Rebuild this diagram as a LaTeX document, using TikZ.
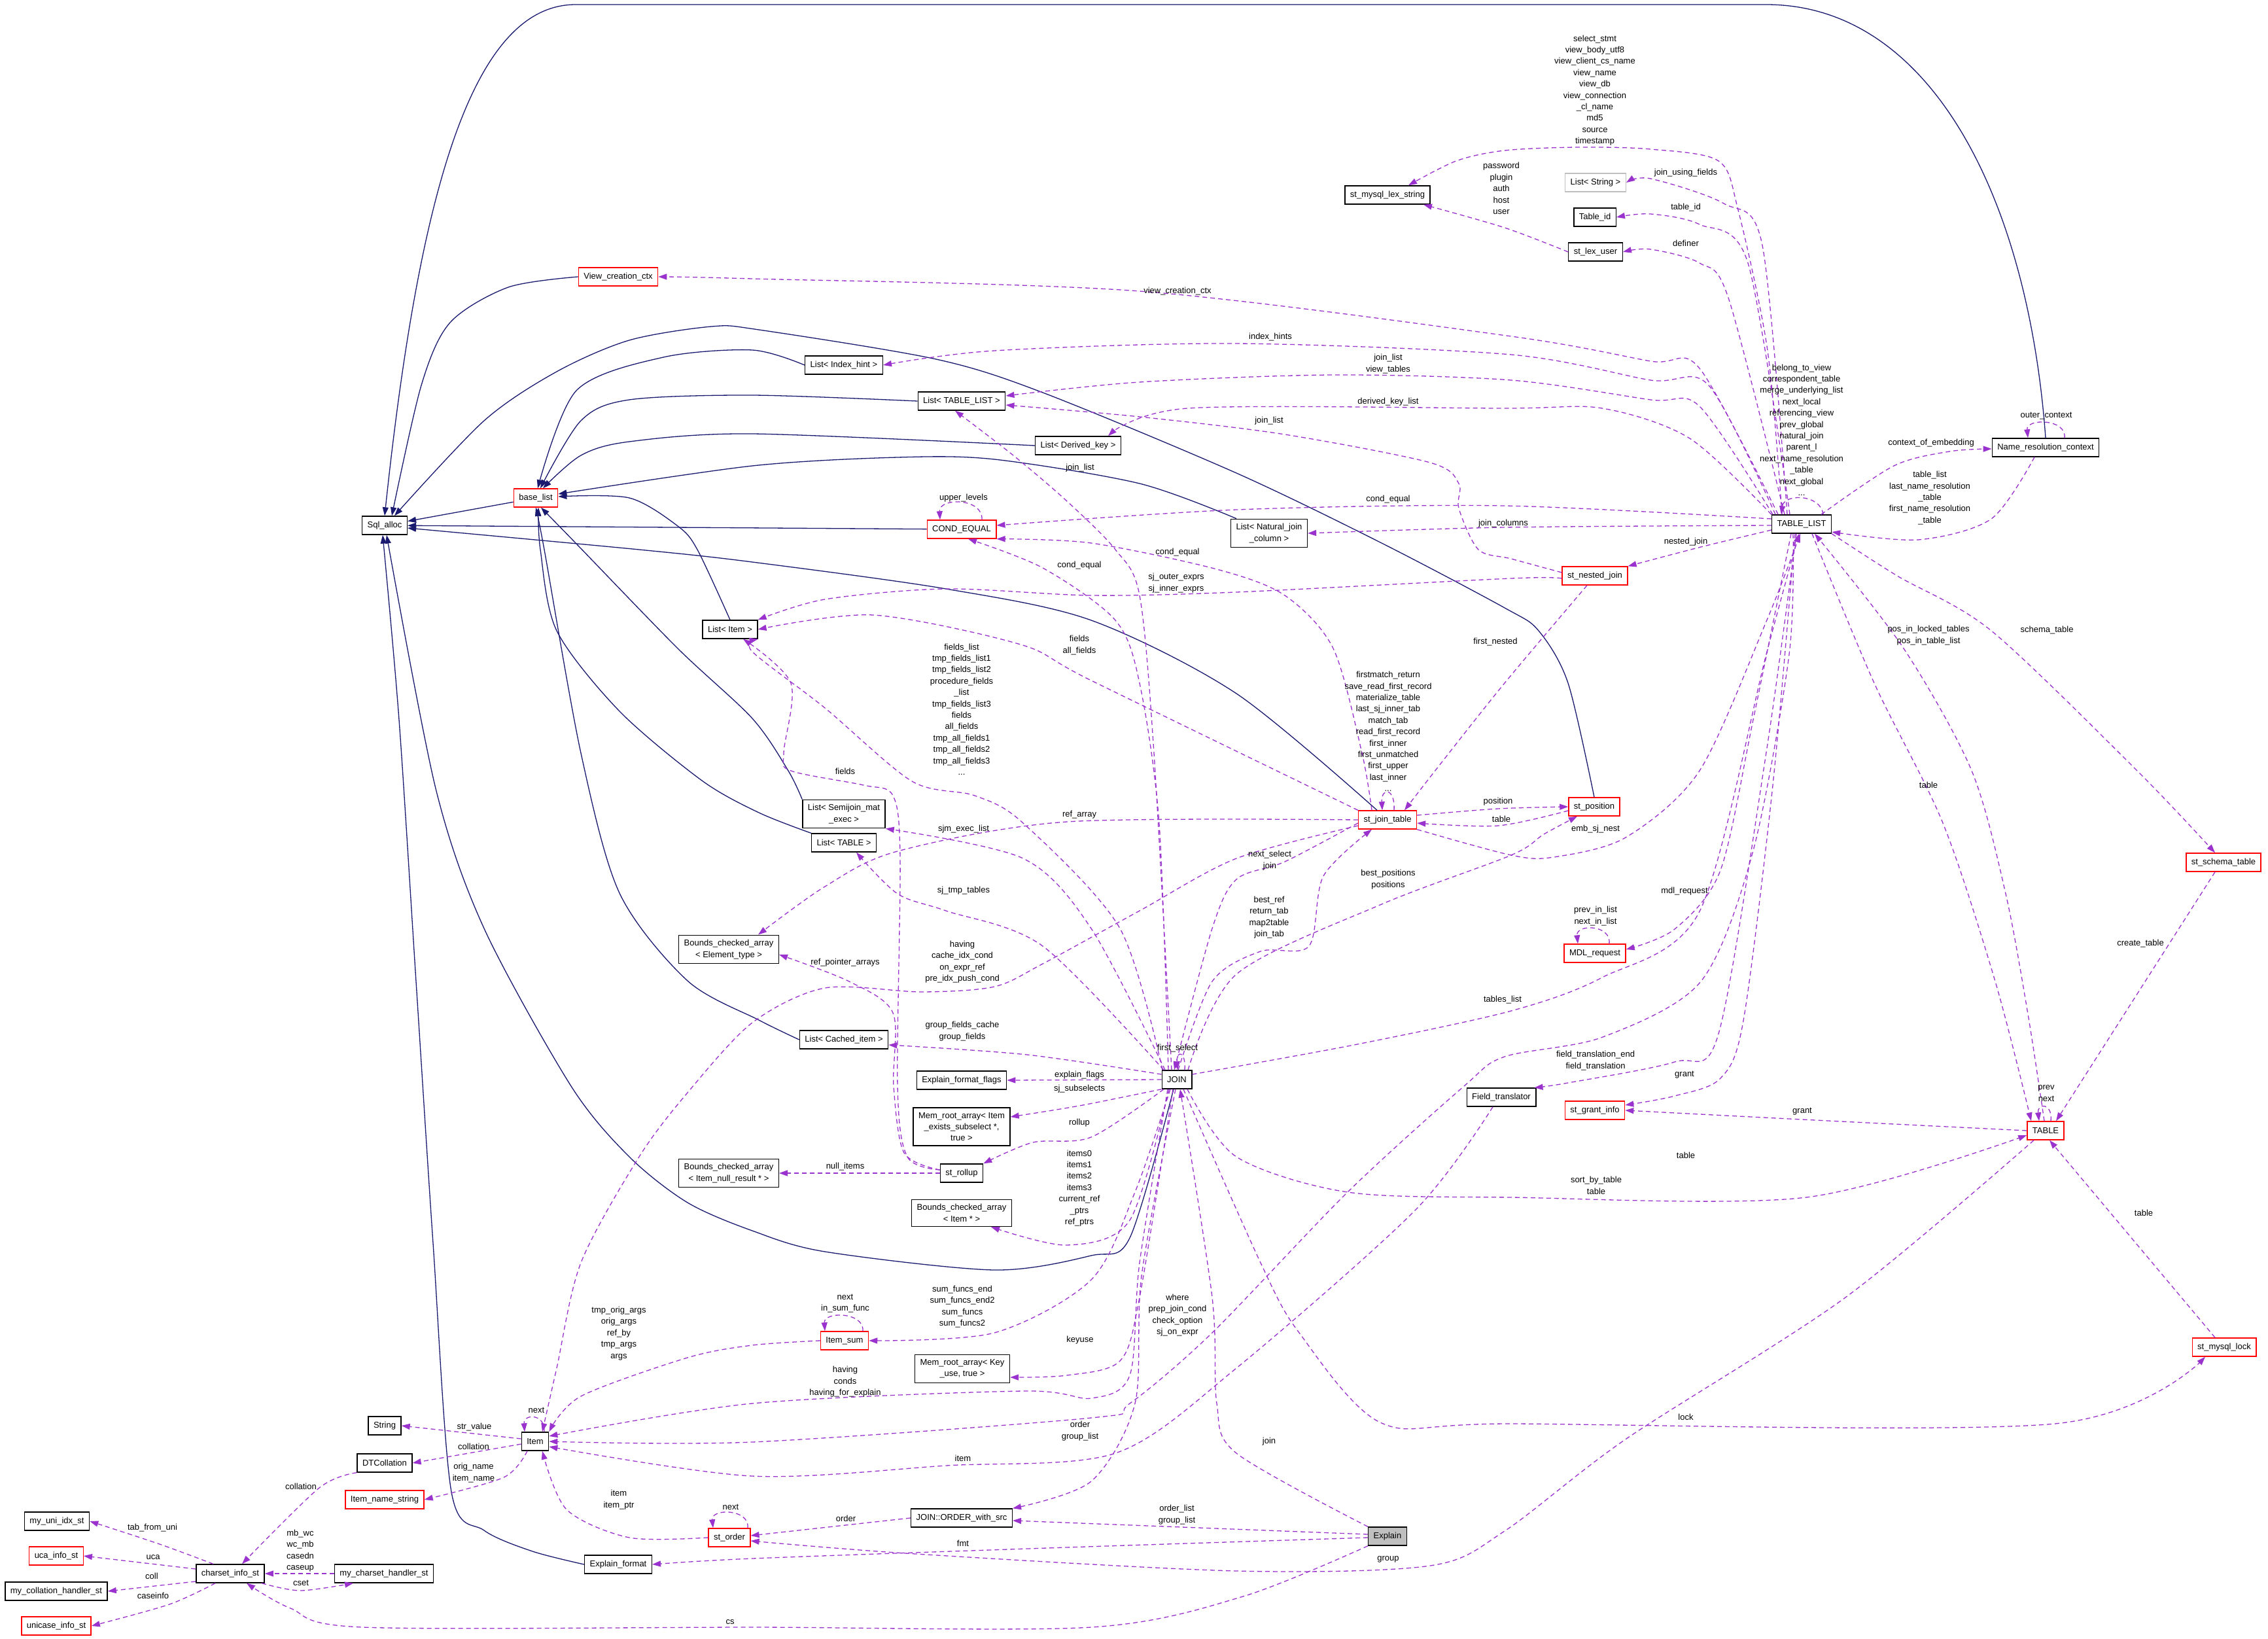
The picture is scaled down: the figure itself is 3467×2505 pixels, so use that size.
\documentclass[tikz,border=0pt]{standalone}
\usepackage{fontspec}
\setmainfont{Liberation Sans}
\usetikzlibrary{arrows.meta}
\definecolor{inhblue}{HTML}{191970}
\definecolor{usepurple}{HTML}{9A32CD}
\newcommand{\dgfont}{\fontsize{13}{17.4}\selectfont}
\tikzset{
  cls/.style={draw=black, line width=1.4pt, fill=white, inner xsep=8pt, inner ysep=7pt, minimum height=28pt, align=center, font=\dgfont},
  clsred/.style={cls, draw=red},
  clsgrey/.style={cls, draw=black!25},
  clshl/.style={cls, fill=black!25},
  lbl/.style={align=center, font=\dgfont, inner sep=0pt},
  inhline/.style={inhblue, line width=1.3pt, -{Triangle[length=13pt,width=9pt]}},
  useline/.style={usepurple, line width=1.3pt, dash pattern=on 7pt off 5pt, -{Triangle[length=13pt,width=9pt]}}
}
\begin{document}
\begin{tikzpicture}[x=1pt,y=-1pt]
\path[use as bounding box, fill=white] (0,0) rectangle (3467,2505);
\node[cls] (sqlalloc) at (588,803) {Sql\_alloc};
\node[clsred] (baselist) at (819,761) {base\_list};
\node[clsred] (viewctx) at (945,423) {View\_creation\_ctx};
\node[cls] (lexstring) at (2121,298) {st\_mysql\_lex\_string};
\node[clsgrey] (liststring) at (2439,279) {List< String >};
\node[cls] (tableid) at (2438,332) {Table\_id};
\node[cls] (lexuser) at (2439,385) {st\_lex\_user};
\node[cls] (listhint) at (1290,558) {List< Index\_hint >};
\node[cls] (listtl) at (1470,613) {List< TABLE\_LIST >};
\node[cls] (listdk) at (1648,681) {List< Derived\_key >};
\node[clsred] (condeq) at (1470,809) {COND\_EQUAL};
\node[cls] (listnjc) at (1940,815) {List< Natural\_join\\\_column >};
\node[cls] (tablelist) at (2754,801) {TABLE\_LIST};
\node[cls] (namectx) at (3127,684) {Name\_resolution\_context};
\node[clsred] (stnested) at (2438,880) {st\_nested\_join};
\node[cls] (listitem) at (1116,962) {List< Item >};
\node[cls] (listsj) at (1290,1244) {List< Semijoin\_mat\\\_exec >};
\node[cls] (listtable) at (1290,1288) {List< TABLE >};
\node[clsred] (jtab) at (2121,1253) {st\_join\_table};
\node[clsred] (stpos) at (2437,1233) {st\_position};
\node[cls] (bcaelem) at (1114,1451) {Bounds\_checked\_array\\< Element\_type >};
\node[clsred] (schema) at (3399,1318) {st\_schema\_table};
\node[clsred] (mdl) at (2438,1457) {MDL\_request};
\node[cls] (listci) at (1290,1589) {List< Cached\_item >};
\node[cls] (join) at (1799,1650) {JOIN};
\node[cls] (eff) at (1470,1651) {Explain\_format\_flags};
\node[cls] (fieldtr) at (2295,1677) {Field\_translator};
\node[clsred] (grantinfo) at (2438,1697) {st\_grant\_info};
\node[clsred] (table) at (3127,1728) {TABLE};
\node[cls] (mraitem) at (1470,1722) {Mem\_root\_array< Item\\\_exists\_subselect *,\\true >};
\node[cls] (rollup) at (1470,1793) {st\_rollup};
\node[cls] (bcanull) at (1114,1793) {Bounds\_checked\_array\\< Item\_null\_result * >};
\node[cls] (bcaitem) at (1470,1854) {Bounds\_checked\_array\\< Item * >};
\node[clsred] (itemsum) at (1291,2049) {Item\_sum};
\node[cls] (mrakey) at (1471,2092) {Mem\_root\_array< Key\\\_use, true >};
\node[clsred] (mysqllock) at (3400,2059) {st\_mysql\_lock};
\node[cls] (string) at (588,2179) {String};
\node[cls] (item) at (818,2203) {Item};
\node[cls] (dtcoll) at (588,2236) {DTCollation};
\node[clsred] (itemname) at (588,2292) {Item\_name\_string};
\node[clsred] (order) at (1115,2350) {st\_order};
\node[cls] (orderws) at (1470,2320) {JOIN::ORDER\_with\_src};
\node[clshl] (explain) at (2121,2348) {Explain};
\node[cls] (explfmt) at (945,2391) {Explain\_format};
\node[cls] (uniidx) at (87,2325) {my\_uni\_idx\_st};
\node[clsred] (uca) at (86,2378) {uca\_info\_st};
\node[cls] (csinfo) at (352,2405) {charset\_info\_st};
\node[cls] (cshandler) at (587,2405) {my\_charset\_handler\_st};
\node[cls] (collhandler) at (86,2432) {my\_collation\_handler\_st};
\node[clsred] (unicase) at (86,2485) {unicase\_info\_st};

\draw[inhline] plot[smooth] coordinates {(viewctx.west) (777,439) (688,493) (644,589) ([xshift=11pt]sqlalloc.north)};
\draw[inhline] (namectx.north) .. controls (3100,300) and (2950,7) .. (2700,7) -- (880,7) .. controls (720,7) and (640,300) .. (sqlalloc.north);
\draw[inhline] plot[smooth] coordinates {(stpos.north) (2397,1044) (2352,964) (2300,929) (2112,830) (1890,723) (1594,600) (1431,549) (1160,504) (1088,499) (962,520) (851,568) (740,643) ([xshift=15pt]sqlalloc.north)};
\draw[inhline] (baselist) -- (sqlalloc);
\draw[inhline] (condeq) -- (sqlalloc);
\draw[inhline] plot[smooth] coordinates {([xshift=-16pt]jtab.north) (1890,1060) (1668,948) (1446,900) (1150,859) (977,840) ([yshift=-4pt]sqlalloc.east)};
\draw[inhline] plot[smooth] coordinates {(listhint.west) (1150,535) (1014,546) (881,597) ([xshift=3pt]baselist.north)};
\draw[inhline] plot[smooth] coordinates {(listtl.west) (1150,604) (962,611) (888,643) ([xshift=7pt]baselist.north)};
\draw[inhline] plot[smooth] coordinates {(listdk.west) (1150,663) (962,675) (888,696) ([xshift=11pt]baselist.north)};
\draw[inhline] plot[smooth] coordinates {([xshift=-50pt]listnjc.north) (1742,739) (1520,702) (1372,699) (1150,712) ([yshift=6pt]baselist.east)};
\draw[inhline] plot[smooth] coordinates {(listitem.north) (1066,840) (1036,804) (962,761) ([yshift=2pt]baselist.east)};
\draw[inhline] plot[smooth] coordinates {(listsj.north west) (1205,1178) (1150,1098) (1036,991) (880,830) ([xshift=8pt]baselist.south)};
\draw[inhline] plot[smooth] coordinates {(listtable.north west) (1160,1242) (1073,1193) (947,1087) (851,964) (826,840) ([xshift=4pt]baselist.south)};
\draw[inhline] plot[smooth] coordinates {(listci.west) (1160,1559) (1051,1499) (947,1365) (888,1151) (832,840) (baselist.south)};
\draw[inhline] plot[smooth] coordinates {(explfmt.west) (814,2371) (740,2339) (690,2280) (662,1900) (636,1500) (610,1100) ([xshift=-3pt]sqlalloc.south)};
\draw[inhline] plot[smooth] coordinates {([xshift=-5pt]join.south) (1727,1892) (1668,1919) (1520,1941) (1261,1913) (1150,1881) (1051,1838) (962,1768) (873,1660) (740,1419) (666,1205) ([xshift=3pt]sqlalloc.south)};

\draw[useline] plot[smooth] coordinates {(lexuser.west) (2300,348) ([xshift=55pt]lexstring.south)};
\draw[useline] plot[smooth] coordinates {([xshift=-30pt]tablelist.north) (2702,536) (2657,321) (2627,246) (2523,228) (2412,225) (2300,230) (2226,246) ([xshift=32pt]lexstring.north)};
\draw[useline] plot[smooth] coordinates {([xshift=-22pt]tablelist.north) (2694,375) (2635,311) (2523,273) (liststring.east)};
\draw[useline] plot[smooth] coordinates {([xshift=-18pt]tablelist.north) (2672,402) (2598,343) (2523,327) (tableid.east)};
\draw[useline] plot[smooth] coordinates {([xshift=-26pt]tablelist.north) (2642,455) (2598,402) (2523,381) (lexuser.east)};
\draw[useline] plot[smooth] coordinates {([xshift=-36pt]tablelist.north) (2598,563) (2523,552) (2310,514) (1742,445) (1150,426) (viewctx.east)};
\draw[useline] plot[smooth] coordinates {([xshift=-40pt]tablelist.north) (2612,589) (2523,581) (2310,542) (1890,525) (1520,536) (listhint.east)};
\draw[useline] plot[smooth] coordinates {([xshift=-44pt]tablelist.north) (2598,621) (2523,611) (2310,581) (2038,573) (1742,584) ([yshift=8pt]listtl.east)};
\draw[useline] plot[smooth] coordinates {(tablelist.north west) (2583,670) (2449,624) (2300,624) (1816,624) ([xshift=46pt]listdk.north)};
\draw[useline] plot[smooth] coordinates {([yshift=8pt]tablelist.west) (2300,773) (1890,779) ([yshift=6pt]condeq.east)};
\draw[useline] plot[smooth] coordinates {([yshift=-2pt]tablelist.west) (2300,806) (listnjc.east)};
\draw[useline] plot[smooth] coordinates {([yshift=-9pt]tablelist.west) (2600,836) (stnested.north east)};
\draw[useline] ([xshift=33pt]tablelist.north) .. controls +(-4,-32) and +(4,-32) .. ([xshift=-31pt]tablelist.north);
\draw[useline] plot[smooth] coordinates {([xshift=30pt]tablelist.north) (2895,712) (2980,690) ([yshift=-2pt]namectx.west)};
\draw[useline] plot[smooth] coordinates {([xshift=-17pt]namectx.south) (3044,793) (2932,825) ([yshift=-12pt]tablelist.east)};
\draw[useline] ([xshift=29pt]namectx.north) .. controls +(3,-30) and +(-3,-30) .. ([xshift=-27pt]namectx.north);
\draw[useline] plot[smooth] coordinates {(tablelist.south east) (2900,880) (3044,964) (3267,1178) ([xshift=-13pt]schema.north)};
\draw[useline] ([xshift=-13pt]schema.south) -- ([xshift=16pt]table.north);
\draw[useline] ([xshift=-14pt]mysqllock.north) -- ([xshift=6pt]table.south);
\draw[useline] plot[smooth] coordinates {([xshift=16pt]tablelist.south) (2865,1044) (2970,1258) (3050,1500) ([xshift=-22pt]table.north)};
\draw[useline] plot[smooth] coordinates {([xshift=-2pt]table.north) (3100,1550) (3066,1366) (3014,1178) (2910,991) ([xshift=20pt]tablelist.south)};
\draw[useline] ([xshift=8pt]table.north) .. controls +(3,-28) and +(-3,-28) .. ([xshift=-10pt]table.north);
\draw[useline] plot[smooth] coordinates {(table.west) (2755,1711) (grantinfo.east)};
\draw[useline] plot[smooth] coordinates {([xshift=-10pt]tablelist.south) (2710,1200) (2665,1560) (2630,1648) (2560,1675) ([yshift=8pt]grantinfo.east)};
\draw[useline] plot[smooth] coordinates {([xshift=-8pt]tablelist.south) (2700,1150) (2627,1580) (2560,1623) (2397,1655) ([xshift=-3pt]fieldtr.north east)};
\draw[useline] plot[smooth] coordinates {([xshift=-16pt]tablelist.south) (2680,1100) (2630,1330) (2560,1420) ([yshift=6pt]mdl.east)};
\draw[useline] plot[smooth] coordinates {([xshift=-13pt]tablelist.south) (2735,1000) (2680,1300) (2600,1500) (2450,1585) (2300,1615) (2238,1660) (2060,1822) (1853,2037) (1727,2145) (1668,2167) (1150,2204) (item.east)};
\draw[useline] plot[smooth] coordinates {([yshift=8pt]join.east) (2075,1596) (2310,1545) (2449,1494) (2598,1393) (2700,1000) ([xshift=-4pt]tablelist.south)};
\draw[useline] plot[smooth] coordinates {(jtab.south east) (2310,1307) (2375,1310) (2485,1280) (2598,1178) (2700,950) ([xshift=-2pt]tablelist.south)};
\draw[useline] plot[smooth] coordinates {([xshift=-12pt]stnested.south) (2300,1044) (2200,1170) ([xshift=26pt]jtab.north)};
\draw[useline] plot[smooth] coordinates {([yshift=5pt]stnested.west) (2310,854) (2260,840) (2230,777) (2230,739) (2186,707) (1964,664) (1742,637) ([yshift=-6pt]listtl.east)};
\draw[useline] plot[smooth] coordinates {([yshift=-4pt]stnested.west) (2310,884) (1890,905) (1668,910) (1446,900) (1261,916) (listitem.north east)};
\draw[useline] plot[smooth] coordinates {([xshift=-24pt]jtab.north) (2082,1151) (2038,991) (1964,910) (1860,870) (1668,830) (condeq.south east)};
\draw[useline] plot[smooth] coordinates {([xshift=-13pt]join.north) (1772,1259) (1742,1044) (1705,948) (1594,868) ([xshift=10pt]condeq.south)};
\draw[useline] plot[smooth] coordinates {([xshift=-8pt]join.north) (1764,1151) (1742,910) (1705,840) (1631,766) (1549,696) ([xshift=-10pt]listtl.south)};
\draw[useline] plot[smooth] coordinates {([xshift=-22pt]join.north) (1712,1419) (1564,1258) (1490,1216) (1394,1194) (1261,1082) (1150,996) (listitem.south east)};
\draw[useline] plot[smooth] coordinates {(jtab.north west) (1668,1040) (1560,985) (1335,940) (listitem.east)};
\draw[useline] plot[smooth] coordinates {([yshift=5pt]rollup.west) (1387,1768) (1372,1660) (1376,1312) (1365,1216) (1320,1200) (1209,1178) (1198,1151) (1209,1044) ([xshift=20pt]listitem.south)};
\draw[useline] plot[smooth] coordinates {([yshift=5pt]rollup.west) (1382,1762) (1366,1660) (1365,1548) (1298,1500) ([yshift=-8pt]bcaelem.east)};
\draw[useline] (rollup.west) -- (bcanull.east);
\draw[useline] ([xshift=10pt]jtab.north) .. controls +(2,-35) and +(-2,-35) .. ([xshift=-8pt]jtab.north);
\draw[useline] plot[smooth] coordinates {([yshift=7pt]jtab.east) (2290,1236) (stpos.west)};
\draw[useline] plot[smooth] coordinates {([yshift=-6pt]stpos.west) (2290,1262) ([yshift=-5pt]jtab.east)};
\draw[useline] plot[smooth] coordinates {([xshift=17pt]join.north) (1890,1489) (2112,1382) (2310,1307) (2360,1275) ([xshift=-26pt]stpos.south)};
\draw[useline] plot[smooth] coordinates {([xshift=2pt]join.north) (1853,1500) (1927,1454) (2001,1446) (2023,1339) ([xshift=-24pt]jtab.south)};
\draw[useline] plot[smooth] coordinates {([yshift=-5pt]jtab.west) (1964,1317) (1890,1344) (1853,1419) ([xshift=-4pt]join.north)};
\draw[useline] plot[smooth] coordinates {(jtab.west) (1631,1256) (1372,1301) (1261,1355) ([xshift=45pt]bcaelem.north)};
\draw[useline] plot[smooth] coordinates {([xshift=-18pt]join.north) (1668,1419) (1564,1312) (listsj.south east)};
\draw[useline] plot[smooth] coordinates {([xshift=-20pt]join.north) (1594,1446) (1446,1392) (1372,1366) ([xshift=19pt]listtable.south)};
\draw[useline] plot[smooth] coordinates {([yshift=8pt]join.west) (1570,1612) ([yshift=-8pt]listci.east)};
\draw[useline] (join.west) -- (eff.east);
\draw[useline] plot[smooth] coordinates {(join.south west) (1650,1690) ([yshift=15pt]mraitem.east)};
\draw[useline] plot[smooth] coordinates {([xshift=-20pt]join.south) (1668,1738) (1579,1746) (rollup.north east)};
\draw[useline] plot[smooth] coordinates {([xshift=-12pt]join.south) (1727,1865) (1631,1903) ([xshift=45pt]bcaitem.south)};
\draw[useline] plot[smooth] coordinates {([xshift=-10pt]join.south) (1735,1822) (1668,1956) (1520,2037) (itemsum.east)};
\draw[useline] plot[smooth] coordinates {([xshift=-6pt]join.south) (1742,1983) (1712,2080) (1631,2102) ([yshift=-13pt]mrakey.east)};
\draw[useline] plot[smooth] coordinates {([xshift=-14pt]join.south) (1742,1930) (1727,2102) (1668,2137) (1564,2126) (1150,2145) ([yshift=8pt]item.east)};
\draw[useline] plot[smooth] coordinates {([xshift=-2pt]join.south) (1745,1950) (1735,2145) (1668,2264) (orderws.north east)};
\draw[useline] plot[smooth] coordinates {([xshift=16pt]join.south) (1890,1768) (2060,1822) (2310,1830) (2761,1830) ([yshift=-7pt]table.west)};
\draw[useline] plot[smooth] coordinates {([xshift=10pt]join.south) (1927,1930) (1986,2037) (2112,2175) (2310,2176) (3141,2176) ([xshift=-29pt]mysqllock.south)};
\draw[useline] plot[smooth] coordinates {(explain.north west) (1890,2221) (1860,2145) (1853,1983) ([xshift=5pt]join.south)};
\draw[useline] ([xshift=12pt]join.north) .. controls +(2,-30) and +(-2,-30) .. ([xshift=1pt]join.north);
\draw[useline] plot[smooth] coordinates {(itemsum.west) (1150,2056) (1051,2075) (888,2134) (item.north east)};
\draw[useline] ([xshift=28pt]itemsum.north) .. controls +(2,-30) and +(-2,-30) .. ([xshift=-30pt]itemsum.north);
\draw[useline] plot[smooth] coordinates {([xshift=-13pt]fieldtr.south) (2164,1849) (1890,2091) (1705,2221) (1446,2240) (1150,2256) ([yshift=-8pt]item.east)};
\draw[useline] plot[smooth] coordinates {([yshift=-9pt]jtab.west) (1890,1312) (1742,1392) (1594,1473) (1520,1508) (1409,1516) (1261,1510) (1150,1563) (1051,1670) (977,1768) (888,1930) (851,2091) ([xshift=11pt]item.north)};
\draw[useline] plot[smooth] coordinates {(order.west) (962,2350) (866,2307) ([xshift=11pt]item.south)};
\draw[useline] ([xshift=28pt]order.north) .. controls +(3,-30) and +(-3,-30) .. ([xshift=-25pt]order.north);
\draw[useline] ([xshift=14pt]item.north) .. controls +(2,-28) and +(-2,-28) .. ([xshift=-16pt]item.north);
\draw[useline] ([yshift=4pt]item.west) -- (string.east);
\draw[useline] ([yshift=-4pt]item.west) -- (dtcoll.east);
\draw[useline] plot[smooth] coordinates {([xshift=-12pt]item.south) (770,2258) (itemname.east)};
\draw[useline] (orderws.west) -- ([yshift=3pt]order.east);
\draw[useline] ([yshift=3pt]explain.west) -- ([yshift=-4pt]orderws.east);
\draw[useline] plot[smooth] coordinates {([yshift=-2pt]explain.west) (1600,2366) (1150,2382) (explfmt.east)};
\draw[useline] plot[smooth] coordinates {([xshift=-18pt]table.south) (2821,1983) (2486,2199) (2300,2340) (2186,2393) (1890,2401) (1400,2375) ([yshift=-5pt]order.east)};
\draw[useline] plot[smooth] coordinates {(explain.south west) (1900,2440) (1668,2487) (1150,2487) (555,2487) (444,2458) ([xshift=25pt]csinfo.south)};
\draw[useline] plot[smooth] coordinates {(dtcoll.south west) (488,2274) ([xshift=18pt]csinfo.north)};
\draw[useline] plot[smooth] coordinates {([xshift=-26pt]csinfo.north) (244,2360) (uniidx.east)};
\draw[useline] ([yshift=7pt]csinfo.west) -- (uca.east);
\draw[useline] ([yshift=-12pt]csinfo.west) -- (collhandler.east);
\draw[useline] plot[smooth] coordinates {([xshift=-23pt]csinfo.south) (259,2452) (unicase.east)};
\draw[useline] plot[smooth] coordinates {([xshift=48pt]csinfo.south) (459,2431) ([xshift=-47pt]cshandler.south)};
\draw[useline] (cshandler.west) -- (csinfo.east);
\draw[useline] ([xshift=22pt]mdl.north) .. controls +(3,-30) and +(-3,-30) .. ([xshift=-26pt]mdl.north);
\draw[useline] ([xshift=31pt]condeq.north) .. controls +(2,-34) and +(-2,-34) .. ([xshift=-33pt]condeq.north);

\node[lbl] (lab1) at (2438,138) {select\_stmt\\view\_body\_utf8\\view\_client\_cs\_name\\view\_name\\view\_db\\view\_connection\\\_cl\_name\\md5\\source\\timestamp};
\node[lbl] (lab2) at (2295,288) {password\\plugin\\auth\\host\\user};
\node[lbl] (lab3) at (2577,264) {join\_using\_fields};
\node[lbl] (lab4) at (2577,317) {table\_id};
\node[lbl] (lab5) at (2577,372) {definer};
\node[lbl] (lab6) at (2754,657) {belong\_to\_view\\correspondent\_table\\merge\_underlying\_list\\next\_local\\referencing\_view\\prev\_global\\natural\_join\\parent\_l\\next\_name\_resolution\\\_table\\next\_global\\...};
\node[lbl] (lab7) at (2952,677) {context\_of\_embedding};
\node[lbl] (lab8) at (2950,761) {table\_list\\last\_name\_resolution\\\_table\\first\_name\_resolution\\\_table};
\node[lbl] (lab9) at (3128,636) {outer\_context};
\node[lbl] (lab10) at (2577,828) {nested\_join};
\node[lbl] (lab11) at (2298,800) {join\_columns};
\node[lbl] (lab12) at (2122,763) {cond\_equal};
\node[lbl] (lab13) at (2122,614) {derived\_key\_list};
\node[lbl] (lab14) at (1940,643) {join\_list};
\node[lbl] (lab15) at (2122,556) {join\_list\\view\_tables};
\node[lbl] (lab16) at (1942,515) {index\_hints};
\node[lbl] (lab17) at (1800,445) {view\_creation\_ctx};
\node[lbl] (lab18) at (1651,715) {join\_list};
\node[lbl] (lab19) at (1473,761) {upper\_levels};
\node[lbl] (lab20) at (1800,844) {cond\_equal};
\node[lbl] (lab21) at (1650,864) {cond\_equal};
\node[lbl] (lab22) at (1798,891) {sj\_outer\_exprs\\sj\_inner\_exprs};
\node[lbl] (lab23) at (1650,986) {fields\\all\_fields};
\node[lbl] (lab24) at (1470,1084) {fields\_list\\tmp\_fields\_list1\\tmp\_fields\_list2\\procedure\_fields\\\_list\\tmp\_fields\_list3\\fields\\all\_fields\\tmp\_all\_fields1\\tmp\_all\_fields2\\tmp\_all\_fields3\\...};
\node[lbl] (lab25) at (1292,1179) {fields};
\node[lbl] (lab26) at (2122,1118) {firstmatch\_return\\save\_read\_first\_record\\materialize\_table\\last\_sj\_inner\_tab\\match\_tab\\read\_first\_record\\first\_inner\\first\_unmatched\\first\_upper\\last\_inner\\...};
\node[lbl] (lab27) at (2286,981) {first\_nested};
\node[lbl] (lab28) at (1650,1245) {ref\_array};
\node[lbl] (lab29) at (1473,1267) {sjm\_exec\_list};
\node[lbl] (lab30) at (1941,1315) {next\_select\\join};
\node[lbl] (lab31) at (2122,1344) {best\_positions\\positions};
\node[lbl] (lab32) at (1473,1361) {sj\_tmp\_tables};
\node[lbl] (lab33) at (1940,1402) {best\_ref\\return\_tab\\map2table\\join\_tab};
\node[lbl] (lab34) at (1471,1470) {having\\cache\_idx\_cond\\on\_expr\_ref\\pre\_idx\_push\_cond};
\node[lbl] (lab35) at (1292,1471) {ref\_pointer\_arrays};
\node[lbl] (lab36) at (1471,1576) {group\_fields\_cache\\group\_fields};
\node[lbl] (lab37) at (1800,1602) {first\_select};
\node[lbl] (lab38) at (1650,1643) {explain\_flags};
\node[lbl] (lab39) at (1650,1664) {sj\_subselects};
\node[lbl] (lab40) at (2290,1225) {position};
\node[lbl] (lab41) at (2295,1252) {table};
\node[lbl] (lab42) at (2439,1267) {emb\_sj\_nest};
\node[lbl] (lab43) at (2948,971) {pos\_in\_locked\_tables\\pos\_in\_table\_list};
\node[lbl] (lab44) at (3129,963) {schema\_table};
\node[lbl] (lab45) at (2948,1200) {table};
\node[lbl] (lab46) at (2575,1362) {mdl\_request};
\node[lbl] (lab47) at (2439,1400) {prev\_in\_list\\next\_in\_list};
\node[lbl] (lab48) at (3272,1442) {create\_table};
\node[lbl] (lab49) at (2297,1528) {tables\_list};
\node[lbl] (lab50) at (2439,1621) {field\_translation\_end\\field\_translation};
\node[lbl] (lab51) at (2575,1643) {grant};
\node[lbl] (lab52) at (3128,1671) {prev\\next};
\node[lbl] (lab53) at (2755,1699) {grant};
\node[lbl] (lab54) at (2577,1766) {table};
\node[lbl] (lab55) at (2440,1812) {sort\_by\_table\\table};
\node[lbl] (lab56) at (3277,1854) {table};
\node[lbl] (lab57) at (2577,2166) {lock};
\node[lbl] (lab58) at (1650,1716) {rollup};
\node[lbl] (lab59) at (1292,1783) {null\_items};
\node[lbl] (lab60) at (1650,1816) {items0\\items1\\items2\\items3\\current\_ref\\\_ptrs\\ref\_ptrs};
\node[lbl] (lab61) at (1471,1997) {sum\_funcs\_end\\sum\_funcs\_end2\\sum\_funcs\\sum\_funcs2};
\node[lbl] (lab62) at (1292,1992) {next\\in\_sum\_func};
\node[lbl] (lab63) at (1800,2010) {where\\prep\_join\_cond\\check\_option\\sj\_on\_expr};
\node[lbl] (lab64) at (1651,2048) {keyuse};
\node[lbl] (lab65) at (1292,2112) {having\\conds\\having\_for\_explain};
\node[lbl] (lab66) at (1651,2187) {order\\group\_list};
\node[lbl] (lab67) at (1940,2203) {join};
\node[lbl] (lab68) at (1472,2229) {item};
\node[lbl] (lab69) at (1799,2315) {order\_list\\group\_list};
\node[lbl] (lab70) at (1293,2321) {order};
\node[lbl] (lab71) at (1472,2359) {fmt};
\node[lbl] (lab72) at (2122,2383) {group};
\node[lbl] (lab73) at (946,2038) {tmp\_orig\_args\\orig\_args\\ref\_by\\tmp\_args\\args};
\node[lbl] (lab74) at (820,2155) {next};
\node[lbl] (lab75) at (725,2181) {str\_value};
\node[lbl] (lab76) at (724,2211) {collation};
\node[lbl] (lab77) at (724,2251) {orig\_name\\item\_name};
\node[lbl] (lab78) at (946,2292) {item\\item\_ptr};
\node[lbl] (lab79) at (1117,2303) {next};
\node[lbl] (lab80) at (460,2272) {collation};
\node[lbl] (lab81) at (233,2335) {tab\_from\_uni};
\node[lbl] (lab82) at (234,2380) {uca};
\node[lbl] (lab83) at (459,2370) {mb\_wc\\wc\_mb\\casedn\\caseup};
\node[lbl] (lab84) at (460,2419) {cset};
\node[lbl] (lab85) at (232,2409) {coll};
\node[lbl] (lab86) at (234,2439) {caseinfo};
\node[lbl] (lab87) at (1116,2479) {cs};
\end{tikzpicture}
\end{document}
